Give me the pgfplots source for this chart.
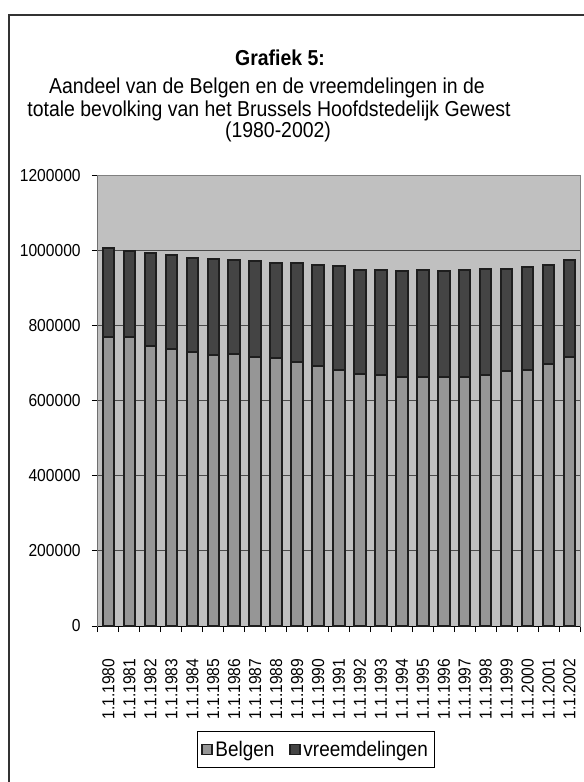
\documentclass[border=0pt]{standalone}
\usepackage{pgfplots}
\pgfplotsset{compat=1.18}
\usepackage{fontspec}
% het origineel heeft iets smallere, hogere letters
\setmainfont[FakeStretch=0.9]{Liberation Sans}
\definecolor{plotbg}{HTML}{C0C0C0}
\definecolor{belgc}{HTML}{969696}
\definecolor{vreemc}{HTML}{444444}
\definecolor{edgec}{HTML}{1E1E1E}
\definecolor{gridc}{HTML}{4A4A4A}
\definecolor{framec}{HTML}{808080}

% bevolking per 1 januari (afgelezen)
\pgfplotstableread{
i jaar     belgen vreemd
0  1.1.1980 770000 238400
1  1.1.1981 770000 229400
2  1.1.1982 747800 246200
3  1.1.1983 738900 250700
4  1.1.1984 730100 251500
5  1.1.1985 723800 254300
6  1.1.1986 724500 250900
7  1.1.1987 718500 255100
8  1.1.1988 714100 255100
9  1.1.1989 703400 265800
10 1.1.1990 694500 269300
11 1.1.1991 682900 276100
12 1.1.1992 672300 278200
13 1.1.1993 669600 279100
14 1.1.1994 665200 282600
15 1.1.1995 663400 286200
16 1.1.1996 663400 283500
17 1.1.1997 665200 284400
18 1.1.1998 670500 281800
19 1.1.1999 679400 273800
20 1.1.2000 682900 275600
21 1.1.2001 698900 264000
22 1.1.2002 716700 259600
}\bevolking

\newcommand\titelfont{\fontsize{16.2}{19}\selectfont}

\begin{document}
\begin{tikzpicture}[x=0.75pt,y=0.75pt]
\useasboundingbox (0,0) rectangle (584,782);
\draw[line width=1.1pt, color=black!80] (9,-10) -- (9,767) -- (600,767);

\node[anchor=base, font=\bfseries\titelfont] at (280,716) {Grafiek 5:};
\node[anchor=base, font=\titelfont] at (267,688) {Aandeel van de Belgen en de vreemdelingen in de};
\node[anchor=base, font=\titelfont] at (269,665.5) {totale bevolking van het Brussels Hoofdstedelijk Gewest};
\node[anchor=base, font=\titelfont] at (278,644) {(1980-2002)};

\begin{axis}[
    at={(73.5pt,117pt)}, anchor=south west,
    scale only axis,
    width=361.5pt, height=337.5pt,
    ybar stacked,
    bar width=8.6pt,
    xmin=-0.5, xmax=22.5,
    ymin=0, ymax=1200000,
    ytick={0,200000,...,1200000},
    scaled y ticks=false,
    yticklabel style={/pgf/number format/fixed, /pgf/number format/1000 sep={}},
    /pgf/number format/assume math mode=true,
    xtick=data,
    xticklabels from table={\bevolking}{jaar},
    xticklabel style={rotate=90, anchor=east},
    major x tick style={draw=none},
    minor xtick={-0.5,0.5,...,22.5},
    minor x tick style={black, line width=0.75pt},
    minor tick length=4.5pt,
    major tick length=4.5pt,
    y tick style={black, line width=0.75pt},
    tick align=outside,
    xtick pos=bottom, ytick pos=left,
    ticklabel style={font=\fontsize{13}{15}\selectfont},
    xticklabel shift=16.5pt,
    yticklabel shift=5pt,
    ymajorgrids,
    grid style={gridc, line width=0.75pt},
    axis background/.style={fill=plotbg},
    axis line style={framec, line width=0.75pt},
    legend style={at={(0.452,-0.2744)}, anchor=center, draw=black, line width=0.6pt,
        font=\fontsize{15.8}{18}\selectfont, legend columns=2,
        inner xsep=3pt, inner ysep=5pt,
        /tikz/every even column/.append style={column sep=9pt}},
    legend image code/.code={\draw[#1, line width=1.1pt] (0pt,-3.8pt) rectangle (7.6pt,3.8pt);},
    every axis plot/.append style={draw=edgec, line width=1.5pt},
]
\addplot[fill=belgc, draw=edgec] table[x=i, y=belgen] {\bevolking};
\addlegendentry{Belgen}
\addplot[fill=vreemc, draw=edgec] table[x=i, y=vreemd] {\bevolking};
\addlegendentry{vreemdelingen}
\draw[black, line width=0.75pt] (axis cs:-0.5,0) -- (axis cs:22.5,0);
\draw[black, line width=0.75pt] (axis cs:-0.5,0) -- (axis cs:-0.5,1200000);
\end{axis}
\end{tikzpicture}
\end{document}
